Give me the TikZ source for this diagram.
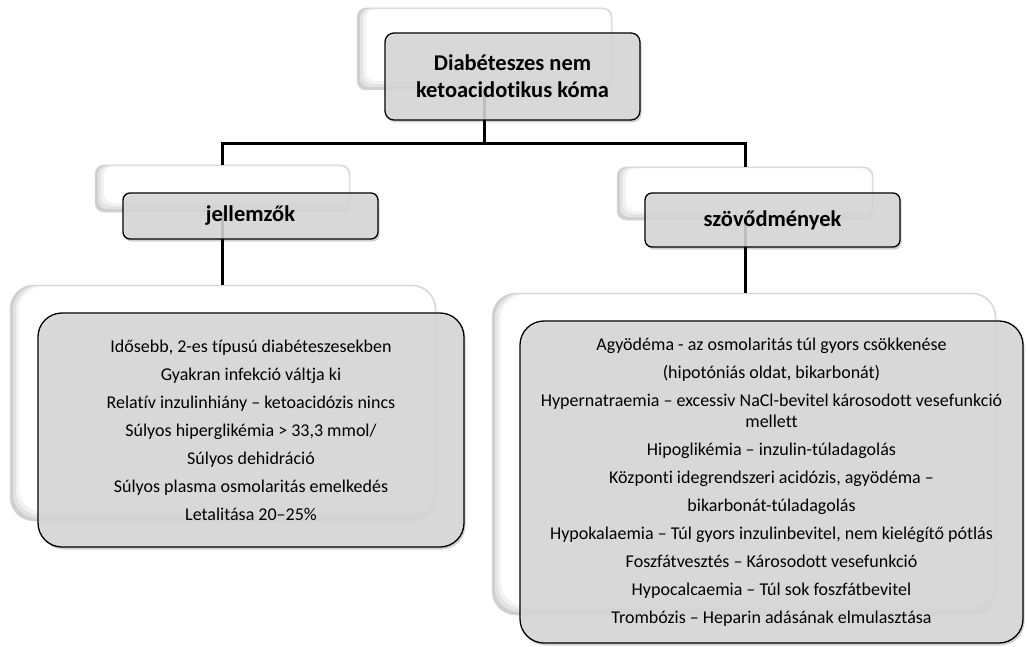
\documentclass[tikz,border=0pt]{standalone}
\usepackage{fontspec}
\setmainfont{Carlito}[Ligatures={NoCommon}]
\usetikzlibrary{shadows}
\tikzset{
  backbox/.style={rectangle, draw=gray!30, line width=0.5pt, fill=gray!38,
    rounded corners=#1, inner sep=0pt,
    path picture={
      \fill[gray!22, rounded corners=#1] ([xshift=3pt,yshift=3pt]path picture bounding box.south west) rectangle ([xshift=-0.5pt,yshift=-0.5pt]path picture bounding box.north east);
      \fill[gray!10, rounded corners=#1] ([xshift=6pt,yshift=6pt]path picture bounding box.south west) rectangle ([xshift=-1pt,yshift=-1pt]path picture bounding box.north east);
      \fill[white, rounded corners=#1] ([xshift=9pt,yshift=9pt]path picture bounding box.south west) rectangle ([xshift=-1.5pt,yshift=-1.5pt]path picture bounding box.north east);
    }},
  backbox/.default=9pt,
  frontbox/.style={rectangle, draw=black, line width=1.3pt, fill=gray!30,
    fill opacity=0.88, text opacity=1, rounded corners=#1, inner sep=0pt, align=center,
    drop shadow={shadow xshift=1.5pt, shadow yshift=-2.5pt, fill=black, opacity=0.18}},
  frontbox/.default=9pt,
  conn/.style={line width=3pt, draw=black},
  headfont/.style={font=\fontsize{22.5}{27}\selectfont\bfseries},
  bodyfont/.style={font=\fontsize{18}{21}\selectfont}
}
\begin{document}
\begin{tikzpicture}[x=1pt,y=-1pt]
\useasboundingbox[fill=white] (0,0) rectangle (1027,647);

% back boxes
\node[backbox, minimum width=255pt, minimum height=82pt] (tb) at (484.5,49) {};
\node[backbox, minimum width=255pt, minimum height=47pt] (lb) at (222.5,188.5) {};
\node[backbox, minimum width=256pt, minimum height=53pt] (rb) at (745,193.5) {};
\node[backbox=24pt, minimum width=426pt, minimum height=236pt] (llb) at (223,403) {};
\node[backbox=24pt, minimum width=504pt, minimum height=322pt] (rrb) at (744,454) {};

% connectors
\coordinate (hub) at ([yshift=-53pt]tb.south);
\draw[conn] (tb.south) -- (hub);
\draw[conn] (lb.north) |- (hub) -| (rb.north);
\draw[conn] (lb.south) -- (lb.south |- llb.north);
\draw[conn] (rb.south) -- (rb.south |- rrb.north);

% front boxes
\node[frontbox, headfont, minimum width=255pt, minimum height=87pt] (tf) at (512.5,76.5)
  {Diabéteszes nem\\ketoacidotikus kóma};
\node[frontbox=7pt, headfont, minimum width=255pt, minimum height=46pt] (lf) at (250.5,216) {jellemzők};
\node[frontbox=7pt, headfont, minimum width=255pt, minimum height=54pt] (rf) at (772.5,220) {szövődmények};
\node[frontbox=24pt, bodyfont, minimum width=426pt, minimum height=234pt] (llf) at (251,430)
  {Idősebb, 2-es típusú diabéteszesekben\\[7pt]
   Gyakran infekció váltja ki\\[7pt]
   Relatív inzulinhiány – ketoacidózis nincs\\[7pt]
   Súlyos hiperglikémia > 33,3 mmol/\\[7pt]
   Súlyos dehidráció\\[7pt]
   Súlyos plasma osmolaritás emelkedés\\[7pt]
   Letalitása 20–25\%};
\node[frontbox=24pt, bodyfont, minimum width=503pt, minimum height=322pt] (rrf) at (771.5,482)
  {Agyödéma - az osmolaritás túl gyors csökkenése\\[7pt]
   (hipotóniás oldat, bikarbonát)\\[7pt]
   Hypernatraemia – excessiv NaCl-bevitel károsodott vesefunkció\\
   mellett\\[7pt]
   Hipoglikémia – inzulin-túladagolás\\[7pt]
   Központi idegrendszeri acidózis, agyödéma –\\[7pt]
   bikarbonát-túladagolás\\[7pt]
   Hypokalaemia – Túl gyors inzulinbevitel, nem kielégítő pótlás\\[7pt]
   Foszfátvesztés – Károsodott vesefunkció\\[7pt]
   Hypocalcaemia – Túl sok foszfátbevitel\\[7pt]
   Trombózis – Heparin adásának elmulasztása};
\end{tikzpicture}
\end{document}
